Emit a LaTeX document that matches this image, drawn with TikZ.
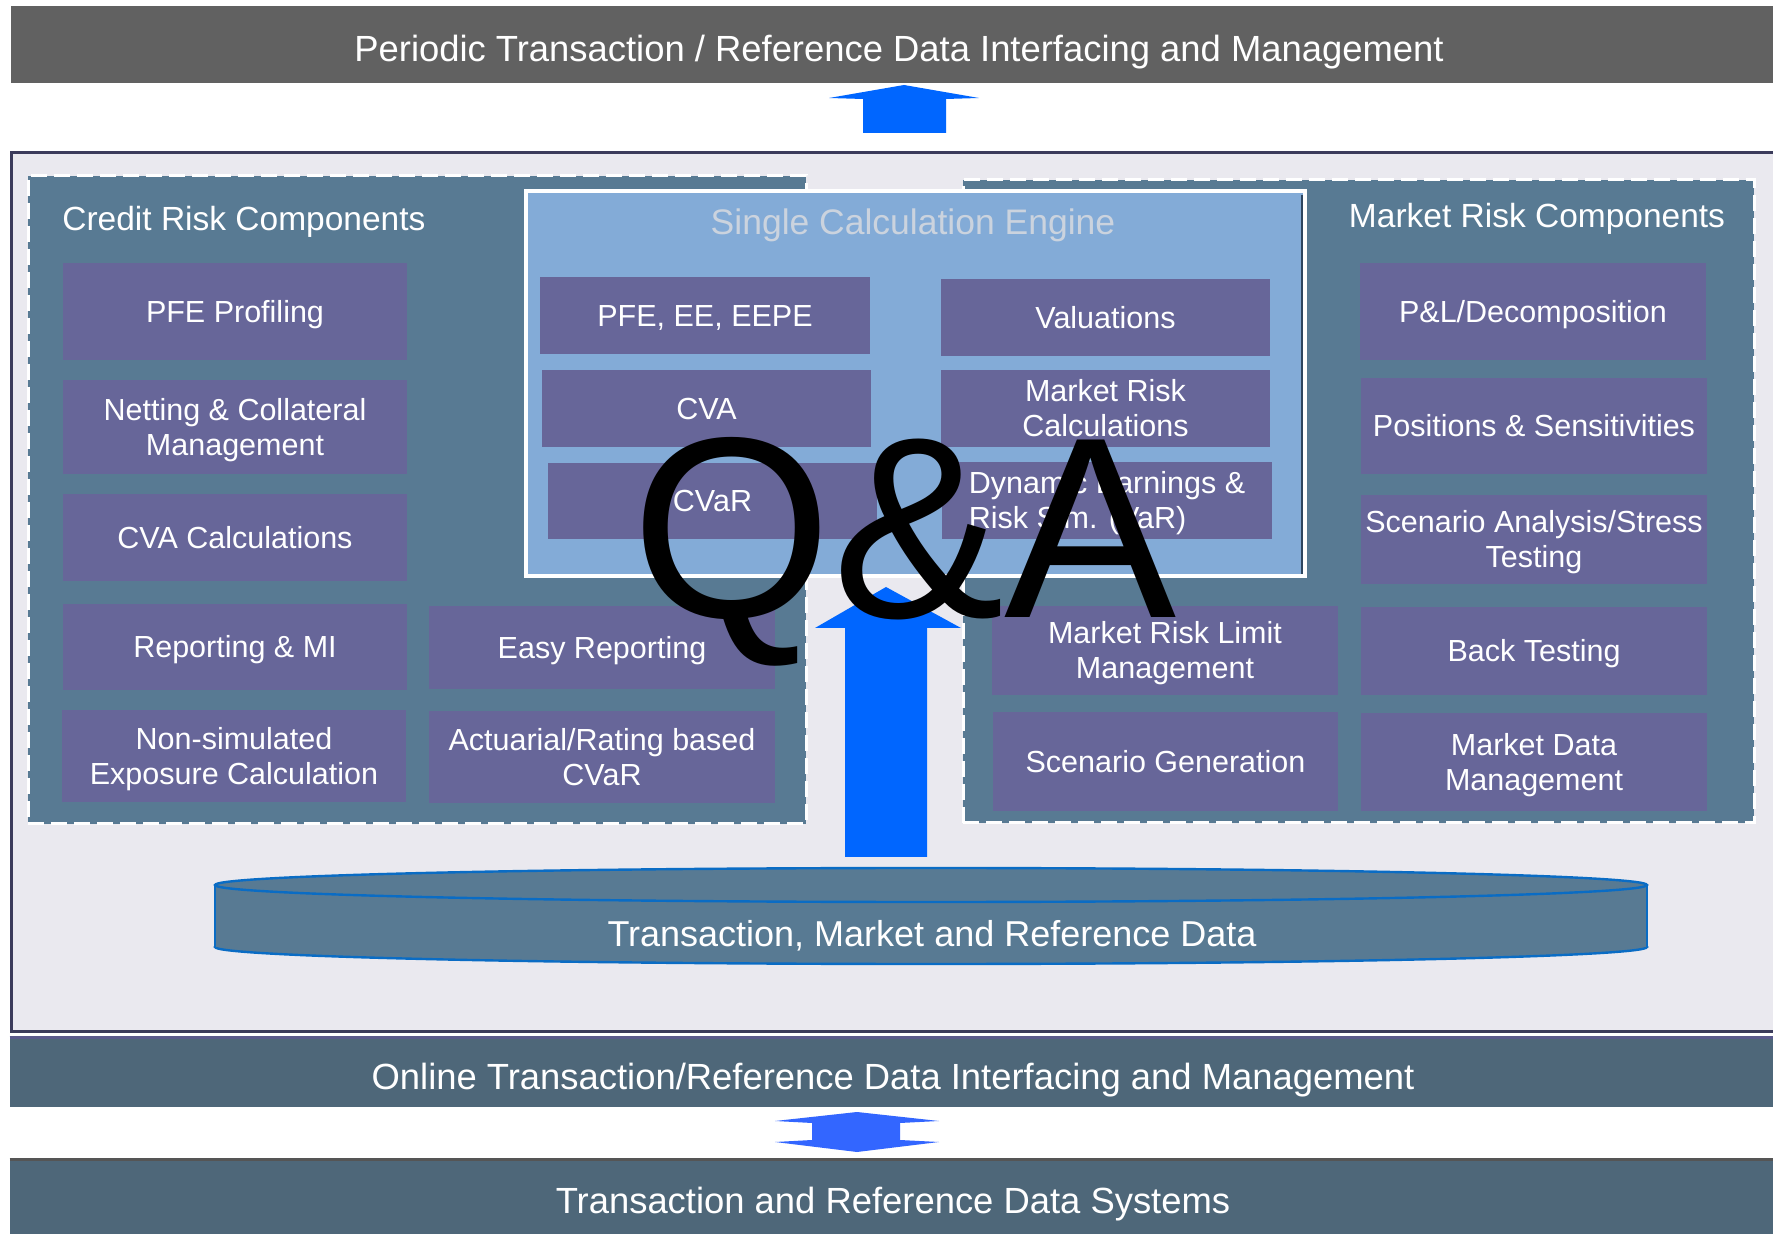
\documentclass[tikz,border=0pt]{standalone}
\usepackage{fontspec}
\setmainfont{Liberation Sans}
\definecolor{bargray}{HTML}{616161}
\definecolor{panelbg}{HTML}{EAE9EF}
\definecolor{panelbd}{HTML}{3B3B5B}
\definecolor{compc}{HTML}{587A93}
\definecolor{itemc}{HTML}{676699}
\definecolor{engc}{HTML}{83ABD7}
\definecolor{engtitlec}{HTML}{CBD3DE}
\definecolor{arrblue}{HTML}{0066FF}
\definecolor{arrbluetwo}{HTML}{3366FF}
\definecolor{cylbd}{HTML}{0A6CC4}
\definecolor{slate}{HTML}{4E6779}
\definecolor{engshadow}{HTML}{2E4660}
\definecolor{onlineline}{HTML}{5A5A8C}
\definecolor{sysline}{HTML}{555555}
\begin{document}
\begin{tikzpicture}[x=0.5pt,y=-0.5pt,
  bx/.style n args={4}{at={({(#1+#3)/2},{(#2+#4)/2})},
    minimum width={(#3-#1)*0.5pt},minimum height={(#4-#2)*0.5pt}},
  item/.style={fill=itemc,text=white,inner sep=0pt,align=center,anchor=center,
    font=\fontsize{15.25}{17.5}\selectfont,text height=10.9pt,text depth=0pt},
  itemtwo/.style={item,text height=28.4pt,text depth=0pt},
  itemleft/.style={itemtwo,align=left},
  comp/.style={fill=compc,draw=white,line width=1.5pt,dash pattern=on 8pt off 3.5pt,inner sep=0pt,anchor=center},
  plainbox/.style={inner sep=0pt,anchor=center},
  titletext/.style={text=white,inner sep=0pt,font=\fontsize{16.75}{20}\selectfont},
  bartext/.style={text=white,inner sep=0pt,anchor=base,font=\fontsize{18.2}{22}\selectfont}
]
\useasboundingbox (0,0) rectangle (1773,1234);
\clip (0,0) rectangle (1773,1234);
\fill[white] (0,0) rectangle (1773,1234);

% top bar
\node[plainbox,fill=bargray,bx={11}{6}{1787}{83}] (topbar) {};
\node[bartext] (toptext) at (899,62) {Periodic Transaction / Reference Data Interfacing and Management};

% top arrow
\fill[arrblue] (904,85) -- (979,98) -- (946,99) -- (946,133) -- (863,133) -- (863,99) -- (829,98) -- cycle;

% main panel
\node[plainbox,fill=panelbg,draw=panelbd,line width=1.5pt,bx={11}{153}{1800}{1031}] (panel) {};

% component boxes
\node[comp,bx={28}{176}{806}{824}] (credit) {};
\node[comp,bx={963}{180}{1754}{823}] (market) {};

% engine
\node[plainbox,fill=engc,draw=white,line width=2pt,bx={526}{191}{1305}{576}] (engine) {};
\draw[engshadow,line width=1.2pt] ([xshift=-2.6pt,yshift=-3pt]engine.north east) -- ([xshift=-2.6pt,yshift=2pt]engine.south east);

% titles
\node[titletext,anchor=base west] (credtitle) at (62,231) {Credit Risk Components};
\node[titletext,anchor=base] (mkttitle) at (1537,228) {Market Risk Components};
\node[titletext,anchor=base,text=engtitlec,font=\fontsize{17.75}{20}\selectfont] (engtitle) at (913,235) {Single Calculation Engine};

% credit items
\node[item,bx={63}{263}{407}{360}] (pfeprof) {PFE Profiling};
\node[itemtwo,bx={63}{380}{407}{474}] (netting) {Netting \& Collateral\\Management};
\node[item,bx={63}{494}{407}{581}] (cvacalc) {CVA Calculations};
\node[item,bx={63}{604}{407}{690}] (reporting) {Reporting \& MI};
\node[itemtwo,bx={62}{710}{406}{802}] (nonsim) {Non-simulated\\Exposure Calculation};
\node[item,bx={429}{606}{775}{689}] (easyrep) {Easy Reporting};
\node[itemtwo,bx={429}{711}{775}{803}] (actuarial) {Actuarial/Rating based\\CVaR};

% engine items
\node[item,bx={540}{277}{870}{354}] (pfeee) {PFE, EE, EEPE};
\node[item,bx={542}{370}{871}{447}] (cva) {CVA};
\node[item,bx={548}{463}{877}{539}] (cvar) {CVaR};
\node[item,bx={941}{279}{1270}{356}] (valuations) {Valuations};
\node[itemtwo,bx={941}{370}{1270}{447}] (mrcalc) {Market Risk\\Calculations};
\node[itemleft,bx={942}{462}{1272}{539}] (dynamic) {Dynamic Earnings \&\\Risk Sim. (VaR)};

% market items
\node[item,bx={1360}{263}{1706}{360}] (pnl) {P\&L/Decomposition};
\node[item,bx={1361}{378}{1707}{474}] (positions) {Positions \& Sensitivities};
\node[itemtwo,bx={1361}{495}{1707}{584}] (scenana) {Scenario Analysis/Stress\\Testing};
\node[item,bx={1361}{607}{1707}{695}] (backtest) {Back Testing};
\node[itemtwo,bx={1361}{713}{1707}{811}] (mktdata) {Market Data\\Management};
\node[itemtwo,bx={992}{606}{1338}{695}] (mrlimit) {Market Risk Limit\\Management};
\node[item,bx={993}{712}{1338}{811}] (scengen) {Scenario Generation};

% big arrow
\fill[arrblue] (886,587) -- (961,628) -- (927,628) -- (927,857) -- (845,857) -- (845,628) -- (815,628) -- cycle;

% cylinder
\fill[compc] (931,947) ellipse[x radius=716,y radius=17];
\draw[cylbd,line width=1.2pt] (931,947) ellipse[x radius=716,y radius=17];
\fill[compc] (215,885) rectangle (1647,947);
\draw[cylbd,line width=1.2pt] (215,885) -- (215,947);
\draw[cylbd,line width=1.2pt] (1647,885) -- (1647,947);
\fill[compc] (931,885) ellipse[x radius=716,y radius=17];
\draw[cylbd,line width=1.2pt] (931,885) ellipse[x radius=716,y radius=17];
\node[bartext,font=\fontsize{18}{22}\selectfont] (cyltext) at (932,946) {Transaction, Market and Reference Data};

% Q&A overlay
\node[anchor=base,inner sep=0pt,text=black,font=\fontsize{129}{130}\selectfont] (qa) at (904,618) {Q\&A};

% bottom bars
\node[plainbox,fill=slate,bx={10}{1038}{1776}{1107}] (online) {};
\draw[onlineline,line width=1.2pt] (online.north west) -- (online.north east);
\node[bartext] (onlinetext) at (893,1089) {Online Transaction/Reference Data Interfacing and Management};

\fill[arrbluetwo] (857,1112) -- (939,1121) -- (900,1123) -- (900,1140) -- (939,1142) -- (857,1152) -- (775,1142) -- (812,1140) -- (812,1123) -- (775,1121) -- cycle;

\node[plainbox,fill=slate,bx={10}{1160}{1776}{1240}] (systems) {};
\draw[sysline,line width=1.5pt] (systems.north west) -- (systems.north east);
\node[bartext] (systext) at (893,1213) {Transaction and Reference Data Systems};
\end{tikzpicture}
\end{document}
